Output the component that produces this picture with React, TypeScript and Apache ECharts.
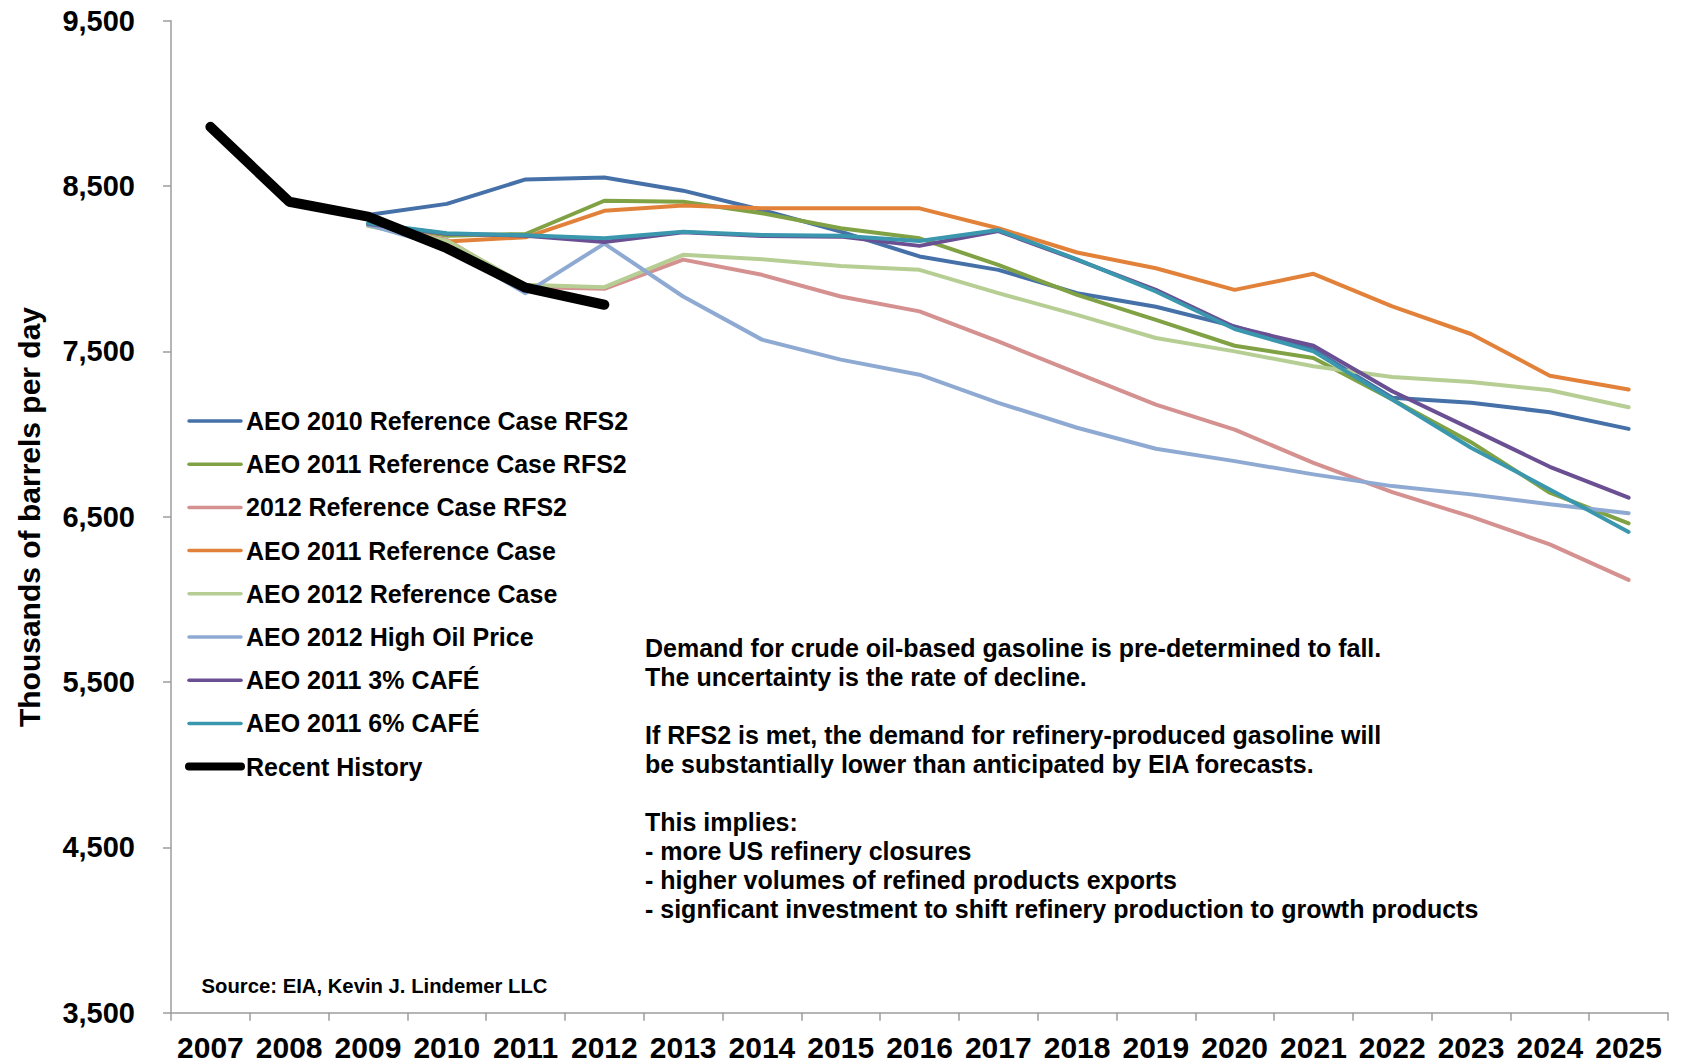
import React, { useEffect, useRef } from "react";
import * as echarts from "echarts";

const years = [
  "2007", "2008", "2009", "2010", "2011", "2012", "2013", "2014", "2015", "2016",
  "2017", "2018", "2019", "2020", "2021", "2022", "2023", "2024", "2025",
];

// Thousands of barrels per day
const aeo2010RefRfs2 = [null, 8405, 8325, 8392, 8540, 8552, 8472, 8355, 8224, 8074, 7993, 7852, 7770, 7651, 7510, 7219, 7189, 7132, 7031];
const aeo2011RefRfs2 = [null, null, 8270, 8200, 8210, 8411, 8405, 8335, 8245, 8184, 8023, 7842, 7691, 7534, 7460, 7209, 6951, 6645, 6460];
const ref2012Rfs2 = [null, null, 8265, 8175, 7890, 7878, 8055, 7963, 7832, 7742, 7560, 7369, 7178, 7027, 6826, 6649, 6500, 6333, 6118];
const aeo2011Ref = [null, null, 8270, 8165, 8190, 8350, 8382, 8365, 8365, 8365, 8245, 8098, 8003, 7872, 7969, 7772, 7605, 7353, 7269];
const aeo2012Ref = [null, null, 8258, 8170, 7903, 7888, 8084, 8057, 8017, 7993, 7852, 7721, 7581, 7500, 7410, 7345, 7315, 7265, 7162];
const aeo2012HighOil = [null, null, 8265, 8130, 7852, 8152, 7832, 7571, 7450, 7359, 7189, 7038, 6911, 6836, 6756, 6685, 6635, 6575, 6521];
const aeo2011Cafe3 = [null, null, 8270, 8212, 8200, 8162, 8220, 8198, 8194, 8138, 8228, 8053, 7872, 7647, 7534, 7259, 7031, 6802, 6615];
const aeo2011Cafe6 = [null, null, 8275, 8214, 8202, 8184, 8224, 8204, 8200, 8168, 8234, 8057, 7862, 7635, 7500, 7209, 6917, 6665, 6408];
const recentHistory = [8858, 8405, 8315, 8124, 7885, 7782, null, null, null, null, null, null, null, null, null, null, null, null, null];

const yTicks = [3500, 4500, 5500, 6500, 7500, 8500, 9500];

const seriesDefs = [
  { name: "AEO 2010 Reference Case RFS2", data: aeo2010RefRfs2, color: "#4571A8", width: 4 },
  { name: "AEO 2011 Reference Case RFS2", data: aeo2011RefRfs2, color: "#80A244", width: 4 },
  { name: "2012 Reference Case RFS2", data: ref2012Rfs2, color: "#D49190", width: 4 },
  { name: "AEO 2011 Reference Case", data: aeo2011Ref, color: "#E2823A", width: 4 },
  { name: "AEO 2012 Reference Case", data: aeo2012Ref, color: "#B6CE93", width: 4 },
  { name: "AEO 2012 High Oil Price", data: aeo2012HighOil, color: "#8FAAD2", width: 4 },
  { name: "AEO 2011 3% CAFÉ", data: aeo2011Cafe3, color: "#6A4F93", width: 4 },
  { name: "AEO 2011 6% CAFÉ", data: aeo2011Cafe6, color: "#3A97AE", width: 4 },
  { name: "Recent History", data: recentHistory, color: "#000000", width: 10 },
];

const noteLines = [
  "Demand for crude oil-based gasoline is pre-determined to fall.",
  "The uncertainty is the rate of decline.",
  "",
  "If RFS2 is met, the demand for refinery-produced gasoline will",
  "be substantially lower than anticipated by EIA forecasts.",
  "",
  "This implies:",
  "- more US refinery closures",
  "- higher volumes of refined products exports",
  "- signficant investment to shift refinery production to growth products",
];

const sourceText = "Source: EIA, Kevin J. Lindemer LLC";
const yAxisTitle = "Thousands of barrels per day";

const FONT = "'Liberation Sans', Arial, Helvetica, sans-serif";
const AXIS_GRAY = "#9C9C9C";

export default function App() {
  const ref = useRef<HTMLDivElement>(null);

  useEffect(() => {
    if (!ref.current) return;
    const chart = echarts.init(ref.current, undefined, { renderer: "svg" });

    chart.setOption({
      animation: false,
      backgroundColor: "#ffffff",
      textStyle: { fontFamily: FONT },
      grid: { left: 171, right: 13, top: 20.7, bottom: 51.3, containLabel: false },
      legend: {
        orient: "vertical",
        left: 180,
        top: 402,
        itemWidth: 52,
        itemHeight: 14,
        itemGap: 15.2,
        selectedMode: false,
        textStyle: {
          fontFamily: FONT,
          fontWeight: "bold",
          fontSize: 25,
          lineHeight: 28,
          color: "#000000",
        },
        data: seriesDefs.map((s) => ({
          name: s.name,
          itemStyle: { opacity: 0, borderWidth: 0 },
          lineStyle: { width: s.width > 5 ? 8 : 3.5, color: s.color, cap: "round" },
        })),
      },
      xAxis: {
        type: "category",
        data: years,
        boundaryGap: true,
        axisLine: { lineStyle: { color: AXIS_GRAY, width: 1.5 } },
        axisTick: { show: true, alignWithLabel: false, length: 8, lineStyle: { color: AXIS_GRAY, width: 1.5 } },
        axisLabel: {
          interval: 0,
          margin: 20,
          fontFamily: FONT,
          fontWeight: "bold",
          fontSize: 30,
          color: "#000000",
        },
        splitLine: { show: false },
      },
      yAxis: {
        type: "value",
        min: 3500,
        max: 9500,
        interval: 500,
        axisLine: { show: true, lineStyle: { color: AXIS_GRAY, width: 1.5 } },
        axisTick: { show: true, length: 8, customValues: yTicks, lineStyle: { color: AXIS_GRAY, width: 1.5 } },
        axisLabel: {
          customValues: yTicks,
          margin: 36,
          fontFamily: FONT,
          fontWeight: "bold",
          fontSize: 29,
          color: "#000000",
          formatter: (v: number) => v.toLocaleString("en-US"),
        },
        splitLine: { show: false },
      },
      series: seriesDefs.map((s) => ({
        name: s.name,
        type: "line",
        data: s.data,
        symbol: "none",
        showSymbol: false,
        connectNulls: false,
        color: s.color,
        lineStyle: { color: s.color, width: s.width, cap: "round", join: "round" },
        emphasis: { disabled: true },
      })),
      graphic: [
        {
          type: "text",
          x: 29,
          y: 517,
          rotation: Math.PI / 2,
          style: {
            text: yAxisTitle,
            fontFamily: FONT,
            fontWeight: "bold",
            fontSize: 30,
            fill: "#000000",
            align: "center",
            verticalAlign: "middle",
          },
        },
        {
          type: "text",
          x: 645,
          y: 633,
          style: {
            text: noteLines.join("\n"),
            fontFamily: FONT,
            fontWeight: "bold",
            fontSize: 25,
            lineHeight: 29,
            fill: "#000000",
            align: "left",
            verticalAlign: "top",
          },
        },
        {
          type: "text",
          x: 201.5,
          y: 985.7,
          style: {
            text: sourceText,
            fontFamily: FONT,
            fontWeight: "bold",
            fontSize: 20.3,
            fill: "#000000",
            align: "left",
            verticalAlign: "middle",
          },
        },
      ],
    });

    return () => chart.dispose();
  }, []);

  return (
    <div
      ref={ref}
      style={{ position: "absolute", left: 0, top: 0, width: 1681, height: 1064 }}
    />
  );
}
